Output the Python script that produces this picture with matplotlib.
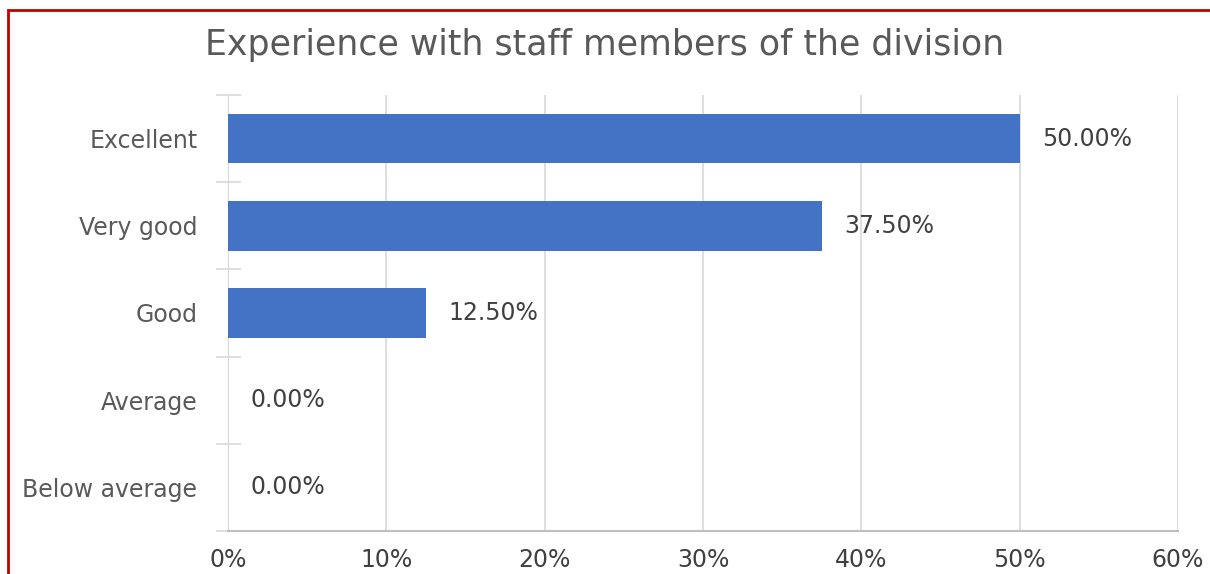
import matplotlib.pyplot as plt
from matplotlib.patches import Rectangle
from matplotlib.ticker import FuncFormatter

categories = ["Excellent", "Very good", "Good", "Average", "Below average"]
shares = [50.0, 37.5, 12.5, 0.0, 0.0]
xticks = [0, 10, 20, 30, 40, 50, 60]

plt.rcParams['font.family'] = ['DejaVu Sans']

fig = plt.figure(figsize=(12.1, 5.74), dpi=100)
ax = fig.add_axes([228 / 1210, 1 - 531 / 574, 950 / 1210, 436 / 574])

ypos = list(range(len(categories)))
ax.barh(ypos, shares, height=0.57, color="#4472C4", zorder=3)
ax.set_ylim(len(categories) - 0.5, -0.5)
ax.set_xlim(0, 60)

for y, v in zip(ypos, shares):
    ax.text(v + 1.4, y, f"{v:.2f}%", va="center", ha="left",
            fontsize=17, color="#404040")

ax.set_xticks(xticks)
ax.xaxis.set_major_formatter(FuncFormatter(lambda v, p: f"{v:.0f}%"))
ax.set_yticks(ypos)
ax.set_yticklabels(categories)
ax.set_yticks([y - 0.5 for y in ypos] + [len(categories) - 0.5], minor=True)

ax.grid(axis="x", color="#d9d9d9", linewidth=1.2, zorder=0)
for s in ["top", "right"]:
    ax.spines[s].set_visible(False)
ax.spines["left"].set_color("#d9d9d9")
ax.spines["bottom"].set_color("#bfbfbf")
ax.spines["bottom"].set_linewidth(1.5)

ax.tick_params(axis="y", which="major", length=0, pad=22,
               labelsize=17, labelcolor="#595959")
ax.tick_params(axis="y", which="minor", length=18, direction="inout",
               color="#d9d9d9", width=1.2)
ax.tick_params(axis="x", length=0, pad=12, labelsize=17, labelcolor="#404040")

fig.text(0.5, 1 - 45 / 574, "Experience with staff members of the division",
         ha="center", va="center", fontsize=25, color="#595959")

# red frame around the picture
fig.add_artist(Rectangle((8 / 1210, -0.1), 1.2, (1 - 10 / 574) + 0.1,
                         transform=fig.transFigure, fill=False,
                         edgecolor="#c00000", linewidth=2))

fig.savefig("out.png", dpi=100)
